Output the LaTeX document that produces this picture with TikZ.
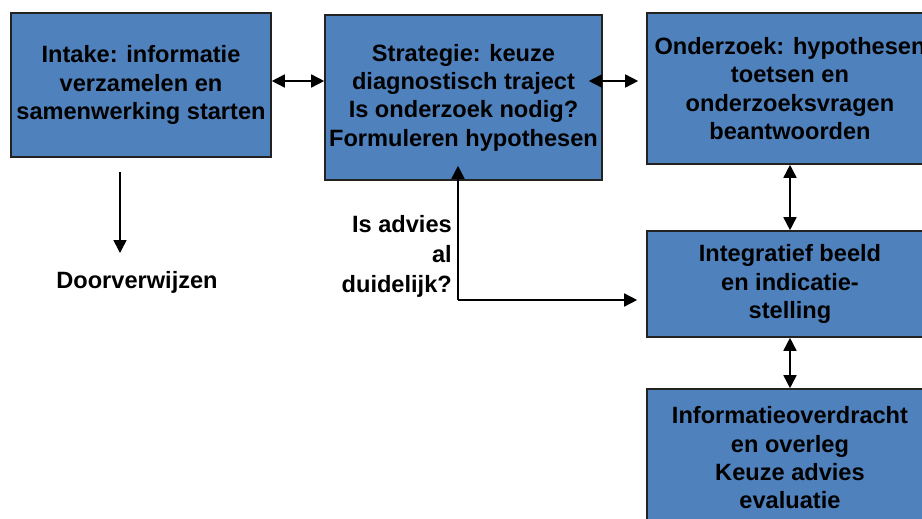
\documentclass[tikz,border=0pt]{standalone}
\usepackage{fontspec}
\setmainfont{Liberation Sans}
\usetikzlibrary{arrows.meta,calc}
\definecolor{boxblue}{HTML}{4F81BD}
\definecolor{boxline}{HTML}{222222}
\tikzset{
  stagebox/.style={draw=boxline, line width=1.6pt, fill=boxblue, align=center,
    font=\fontsize{23.6}{28.3}\selectfont\bfseries, inner sep=0pt},
  lbl/.style={font=\fontsize{23.6}{30}\selectfont\bfseries, inner sep=0pt},
  conn/.style={line width=1.6pt, -{Triangle[length=13pt,width=13pt]}},
  dconn/.style={line width=1.6pt, {Triangle[length=13pt,width=13pt]}-{Triangle[length=13pt,width=13pt]}}
}
\begin{document}
\begin{tikzpicture}[x=1pt,y=-1pt]
\useasboundingbox (0,0) rectangle (922,519);
\clip (0,0) rectangle (922,519);
\node[stagebox, minimum width=260pt, minimum height=144pt] (intake) at (141,85)
  {Intake: informatie\\verzamelen en\\samenwerking starten};
\node[stagebox, minimum width=277pt, minimum height=165pt] (strat) at (463.5,97.5)
  {Strategie: keuze\\diagnostisch traject\\Is onderzoek nodig?\\Formuleren hypothesen};
\node[stagebox, minimum width=286pt, minimum height=151pt] (onderzoek) at (790,88.5)
  {Onderzoek: hypothesen\\toetsen en\\onderzoeksvragen\\beantwoorden};
\node[stagebox, minimum width=286pt, minimum height=106pt] (integ) at (790,284)
  {Integratief beeld\\en indicatie-\\stelling};
\node[stagebox, minimum width=286pt, minimum height=138pt] (info) at (790,458)
  {Informatieoverdracht\\en overleg\\Keuze advies\\evaluatie};
\node[lbl, anchor=base] (door) at (137,288) {Doorverwijzen};
\node[lbl, align=right, anchor=east] (vraag) at (452,256)
  {Is advies\\al\hspace*{0.28em}\\duidelijk?};
% connectors
\draw[dconn] ([yshift=4pt]intake.east) -- ([yshift=4pt]intake.east -| strat.west);
\coordinate (y81) at (0,81);
\draw[dconn] ($(strat.east |- y81)+(-14,0)$) -- ($(onderzoek.west |- y81)+(-8,0)$);
\draw[dconn] (onderzoek.south) -- (integ.north);
\draw[dconn] (integ.south) -- (info.north);
\coordinate (dstart) at (120,172);
\coordinate (dend) at (120,253);
\draw[conn] (dstart) -- (dend);
\coordinate (corner) at (458,300);
\draw[conn] (corner) -- ($(strat.south -| corner)+(0,-15)$);
\draw[conn] (corner) -- ($(integ.west |- corner)+(-9,0)$);
\end{tikzpicture}
\end{document}
